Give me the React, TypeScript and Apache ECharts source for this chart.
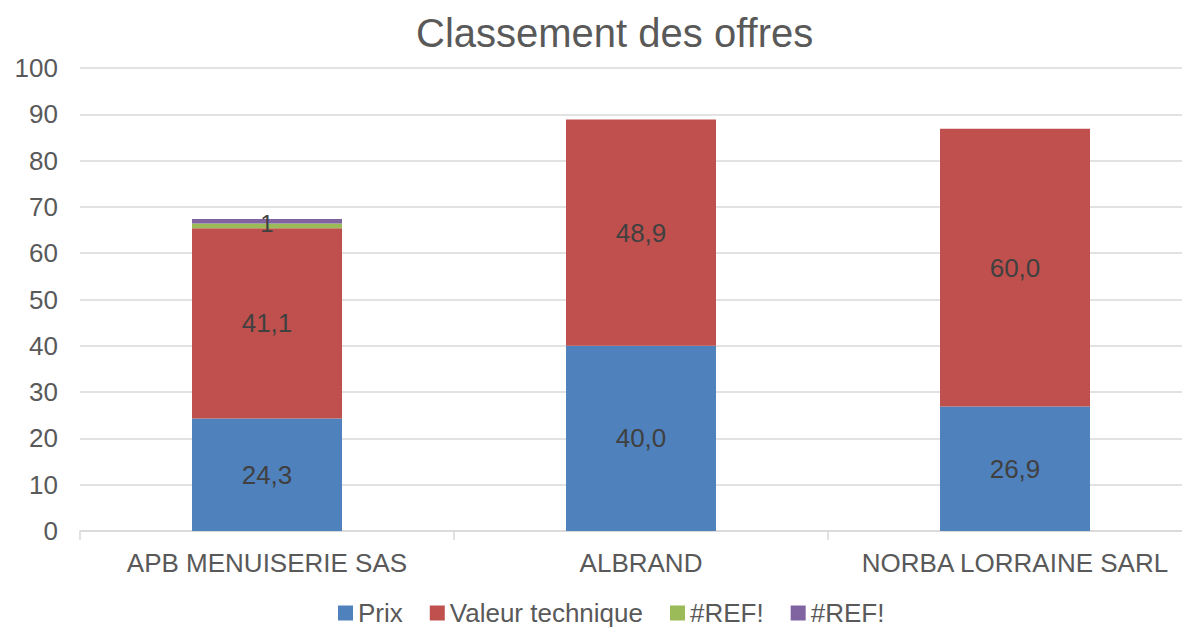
import React, { useEffect, useRef } from "react";
import * as echarts from "echarts";

const categories = ["APB MENUISERIE SAS", "ALBRAND", "NORBA LORRAINE SARL"];
const prix = [24.3, 40.0, 26.9];
const valeurTechnique = [41.1, 48.9, 60.0];
const ref1 = [1, null, null];
const ref2 = [1, null, null];
const yTicks = { min: 0, max: 100, interval: 10 };

const FONT = "Liberation Sans, Arial, sans-serif";

export default function App() {
  const ref = useRef<HTMLDivElement>(null);
  useEffect(() => {
    if (!ref.current) return;
    const chart = echarts.init(ref.current, null, { renderer: "svg" });
    const dec = (p: any) =>
      p.value == null ? "" : Number(p.value).toFixed(1).replace(".", ",");
    const labelStyle = {
      show: true,
      position: "inside",
      color: "#404040",
      fontSize: 26,
      fontFamily: FONT,
    };
    chart.setOption({
      animation: false,
      backgroundColor: "#ffffff",
      title: {
        text: "Classement des offres",
        left: 411,
        top: 8,
        textStyle: {
          color: "#595959",
          fontSize: 40,
          fontWeight: "normal",
          fontFamily: FONT,
        },
      },
      legend: {
        left: 333,
        top: 595,
        itemWidth: 15,
        itemHeight: 15,
        itemGap: 27,
        icon: "rect",
        textStyle: { color: "#595959", fontSize: 26, fontFamily: FONT },
        data: ["Prix", "Valeur technique", "#REF!", "#REF! "],
      },
      grid: {
        left: 80,
        right: -20,
        top: 68,
        bottom: 97,
        containLabel: false,
        outerBoundsMode: "none",
      },
      xAxis: {
        type: "category",
        data: categories,
        axisLine: { lineStyle: { color: "#d9d9d9", width: 1.5 } },
        axisTick: { show: true, length: 9, lineStyle: { color: "#d9d9d9", width: 1.5 } },
        axisLabel: {
          color: "#595959",
          fontSize: 26,
          fontFamily: FONT,
          margin: 19,
          interval: 0,
        },
      },
      yAxis: {
        type: "value",
        min: yTicks.min,
        max: yTicks.max,
        interval: yTicks.interval,
        axisLine: { show: false },
        axisTick: { show: false },
        splitLine: { lineStyle: { color: "#d9d9d9", width: 1.5 } },
        axisLabel: {
          color: "#595959",
          fontSize: 26,
          fontFamily: FONT,
          margin: 22,
        },
      },
      series: [
        {
          name: "Prix",
          type: "bar",
          stack: "t",
          barWidth: 150,
          data: prix,
          itemStyle: { color: "#4f81bd" },
          label: { ...labelStyle, formatter: dec },
        },
        {
          name: "Valeur technique",
          type: "bar",
          stack: "t",
          barWidth: 150,
          data: valeurTechnique,
          itemStyle: { color: "#c0504d" },
          label: { ...labelStyle, formatter: dec },
        },
        {
          name: "#REF!",
          type: "bar",
          stack: "t",
          barWidth: 150,
          data: ref1,
          itemStyle: { color: "#9bbb59" },
          label: {
            ...labelStyle,
            fontSize: 24,
            offset: [0, -2],
            formatter: (p: any) => (p.value == null ? "" : String(p.value)),
          },
        },
        {
          name: "#REF! ",
          type: "bar",
          stack: "t",
          barWidth: 150,
          data: ref2,
          itemStyle: { color: "#8064a2" },
          label: { show: false },
        },
      ],
    });
    return () => chart.dispose();
  }, []);
  return (
    <div
      ref={ref}
      style={{ position: "fixed", left: 0, top: 0, width: 1182, height: 628 }}
    />
  );
}
